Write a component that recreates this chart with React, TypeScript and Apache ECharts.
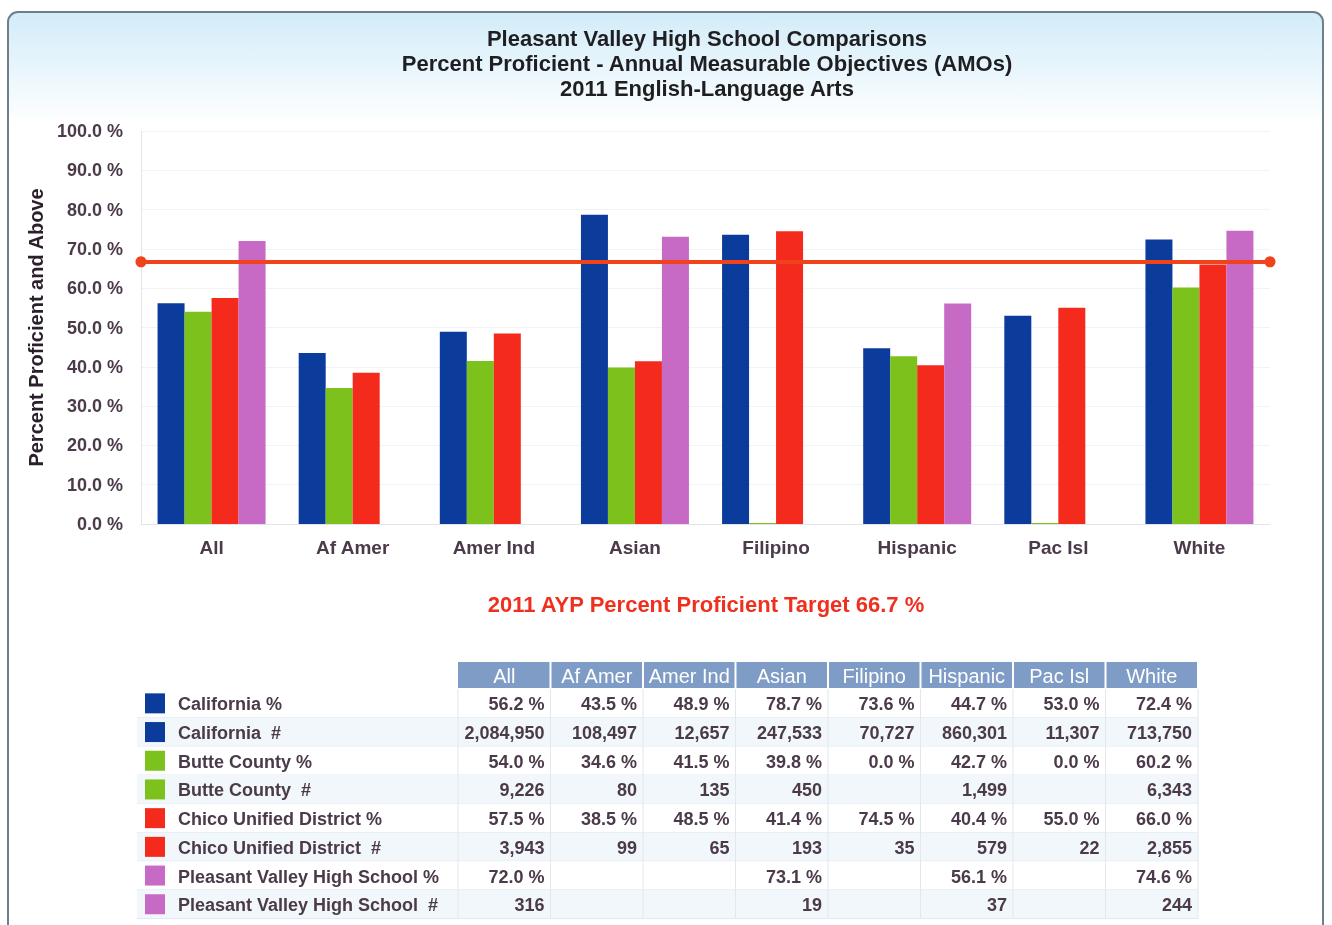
import React, { useEffect, useRef } from "react";
import * as echarts from "echarts";

const categories = ["All", "Af Amer", "Amer Ind", "Asian", "Filipino", "Hispanic", "Pac Isl", "White"];
const seriesNames = ["California", "Butte County", "Chico Unified District", "Pleasant Valley High School"];
const seriesColors = ["#0b3c9c", "#7cc11c", "#f42a1c", "#c76ac5"];

const californiaPct = [56.2, 43.5, 48.9, 78.7, 73.6, 44.7, 53.0, 72.4];
const buttePct = [54.0, 34.6, 41.5, 39.8, 0.0, 42.7, 0.0, 60.2];
const chicoPct = [57.5, 38.5, 48.5, 41.4, 74.5, 40.4, 55.0, 66.0];
const pvhsPct = [72.0, null, null, 73.1, null, 56.1, null, 74.6];

const californiaCount = [2084950, 108497, 12657, 247533, 70727, 860301, 11307, 713750];
const butteCount = [9226, 80, 135, 450, null, 1499, null, 6343];
const chicoCount = [3943, 99, 65, 193, 35, 579, 22, 2855];
const pvhsCount = [316, null, null, 19, null, 37, null, 244];

const targetPct = 66.7;
const yTicks = [0, 10, 20, 30, 40, 50, 60, 70, 80, 90, 100];

const titleLines = [
  "Pleasant Valley High School Comparisons",
  "Percent Proficient - Annual Measurable Objectives (AMOs)",
  "2011 English-Language Arts",
];
const targetText = `2011 AYP Percent Proficient Target ${targetPct} %`;

const TEXT = "#4b3a4a";
const FONT = "Arial, 'Liberation Sans', Helvetica, sans-serif";

const fmtPct = (v: number | null) => (v === null ? "" : `${v.toFixed(1)} %`);
const fmtCount = (v: number | null) => (v === null ? "" : v.toLocaleString("en-US"));

export default function App() {
  const ref = useRef<HTMLDivElement>(null);

  useEffect(() => {
    if (!ref.current) return;
    const chart = echarts.init(ref.current, undefined, { renderer: "svg" });

    const pctSeries = [californiaPct, buttePct, chicoPct, pvhsPct];
    const countSeries = [californiaCount, butteCount, chicoCount, pvhsCount];

    const tableRows: { label: string; color: string; values: string[] }[] = [];
    seriesNames.forEach((name, i) => {
      tableRows.push({ label: `${name} %`, color: seriesColors[i], values: pctSeries[i].map(fmtPct) });
      tableRows.push({ label: `${name}  #`, color: seriesColors[i], values: countSeries[i].map(fmtCount) });
    });

    const tableLeft = 137;
    const colStart = 458;
    const colW = 92.5;
    const headerY = 662;
    const headerH = 26;
    const rowY0 = 689;
    const rowH = 28.7;
    const tableRight = colStart + colW * categories.length;

    const graphics: any[] = [];
    // frame
    graphics.push({
      type: "rect",
      z: -100,
      silent: true,
      shape: { x: 8, y: 12, width: 1315, height: 940, r: 10 },
      style: {
        fill: new echarts.graphic.LinearGradient(0, 0, 0, 1, [
          { offset: 0, color: "#d2ecf9" },
          { offset: 0.12, color: "#ffffff" },
          { offset: 1, color: "#ffffff" },
        ]),
        stroke: "#6f7f8a",
        lineWidth: 2,
      },
    });
    // title
    titleLines.forEach((t, i) => {
      graphics.push({
        type: "text",
        x: 707,
        y: 38 + i * 25,
        style: { text: t, fill: "#1f1f22", font: `bold 22px ${FONT}`, align: "center", verticalAlign: "middle" },
      });
    });
    // target text
    graphics.push({
      type: "text",
      x: 706,
      y: 604,
      style: { text: targetText, fill: "#f0301f", font: `bold 22px ${FONT}`, align: "center", verticalAlign: "middle" },
    });
    // header
    categories.forEach((c, j) => {
      graphics.push({
        type: "rect",
        shape: { x: colStart + j * colW + (j === 0 ? 0 : 1), y: headerY, width: colW - (j === 0 ? 1 : 2), height: headerH },
        style: { fill: "#7e9cc5" },
      });
      graphics.push({
        type: "text",
        x: colStart + j * colW + colW / 2,
        y: headerY + headerH / 2 + 1,
        style: { text: c, fill: "#ffffff", font: `20px ${FONT}`, align: "center", verticalAlign: "middle" },
      });
    });
    // rows
    tableRows.forEach((row, i) => {
      const y = rowY0 + i * rowH;
      graphics.push({
        type: "rect",
        shape: { x: tableLeft, y, width: tableRight - tableLeft, height: rowH },
        style: { fill: i % 2 === 1 ? "#f2f7fb" : "#ffffff" },
      });
      graphics.push({
        type: "line",
        shape: { x1: tableLeft, y1: y + rowH, x2: tableRight, y2: y + rowH },
        style: { stroke: "#dfe7ee", lineWidth: 1 },
      });
      graphics.push({
        type: "rect",
        shape: { x: 145, y: y + rowH / 2 - 10, width: 20, height: 20 },
        style: { fill: row.color },
      });
      graphics.push({
        type: "text",
        x: 178,
        y: y + rowH / 2 + 1,
        style: { text: row.label, fill: TEXT, font: `bold 18px ${FONT}`, align: "left", verticalAlign: "middle" },
      });
      row.values.forEach((v, j) => {
        if (!v) return;
        graphics.push({
          type: "text",
          x: colStart + (j + 1) * colW - 6,
          y: y + rowH / 2 + 1,
          style: { text: v, fill: TEXT, font: `bold 18px ${FONT}`, align: "right", verticalAlign: "middle" },
        });
      });
    });
    // vertical cell lines
    for (let j = 0; j <= categories.length; j++) {
      graphics.push({
        type: "line",
        shape: { x1: colStart + j * colW, y1: rowY0, x2: colStart + j * colW, y2: rowY0 + rowH * tableRows.length },
        style: { stroke: "#e2e8ee", lineWidth: 1 },
      });
    }

    const barSeries = seriesNames.map((name, i) => ({
      name,
      type: "bar",
      data: pctSeries[i],
      barWidth: 27,
      barGap: "0%",
      barMinHeight: i === 1 ? 1 : 0,
      itemStyle: { color: seriesColors[i] },
      ...(i === seriesNames.length - 1
        ? {
            markLine: {
              silent: true,
              symbol: ["circle", "circle"],
              symbolSize: 11,
              label: { show: false },
              lineStyle: { color: "#f0431c", width: 4, type: "solid" },
              data: [{ yAxis: targetPct }],
            },
          }
        : {}),
    }));

    chart.setOption({
      animation: false,
      graphic: graphics,
      grid: { left: 141, right: 62, top: 131, bottom: 401, containLabel: false },
      xAxis: {
        type: "category",
        data: categories,
        axisLine: { show: true, lineStyle: { color: "#e2e6ec" } },
        axisTick: { show: false },
        axisLabel: { color: TEXT, fontFamily: FONT, fontWeight: "bold", fontSize: 19, margin: 14 },
        splitLine: { show: false },
      },
      yAxis: {
        type: "value",
        min: 0,
        max: 100,
        interval: 10,
        name: "Percent Proficient and Above",
        nameLocation: "middle",
        nameRotate: 90,
        nameGap: 94,
        nameTextStyle: { color: "#2a1f2a", fontFamily: FONT, fontWeight: "bold", fontSize: 20 },
        axisLine: { show: true, lineStyle: { color: "#e2e6ec" } },
        axisTick: { show: false },
        axisLabel: {
          color: TEXT,
          fontFamily: FONT,
          fontWeight: "bold",
          fontSize: 18,
          margin: 18,
          formatter: (v: number) => (yTicks.includes(v) ? `${v.toFixed(1)} %` : ""),
        },
        splitLine: { show: true, lineStyle: { color: "#f1f3f6" } },
      },
      series: barSeries,
    });

    return () => chart.dispose();
  }, []);

  return <div ref={ref} style={{ position: "fixed", left: 0, top: 0, width: 1332, height: 925 }} />;
}
